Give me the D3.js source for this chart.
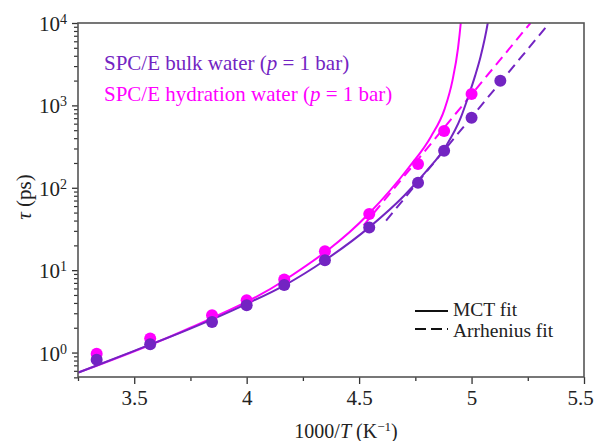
<!DOCTYPE html>
<html>
<head>
<meta charset="utf-8">
<script src="https://cdn.jsdelivr.net/npm/d3@7"></script>
<style>
  body { margin: 0; background: #fff; }
  text { font-family: "Liberation Serif", "Times New Roman", serif; }
</style>
</head>
<body>
<div id="chart"></div>
<script>
// data (x = 1000/T, tau in ps)
var xBulk = [3.333, 3.571, 3.846, 4.0, 4.167, 4.348, 4.545, 4.762, 4.878, 5.0, 5.128];
var tauBulk = [0.82, 1.26, 2.35, 3.76, 6.6, 13.2, 33, 115, 282, 709, 1995];
var xHyd = [3.333, 3.571, 3.846, 4.0, 4.167, 4.348, 4.545, 4.762, 4.878, 5.0];
var tauHyd = [0.97, 1.48, 2.84, 4.32, 7.7, 17.0, 48, 194, 489, 1375];

// MCT fit curves
var xMctBulk = [3.25, 3.5, 3.75, 4.0, 4.17, 4.35, 4.55, 4.7, 4.8, 4.886, 4.952, 4.982, 5.016, 5.04, 5.072, 5.09];
var tauMctBulk = [0.57, 1.05, 1.95, 3.9, 6.6, 13.3, 34, 80, 160, 320, 710, 1200, 2300, 3900, 10000, 21000];
var xMctHyd = [3.25, 3.75, 4.17, 4.545, 4.72, 4.82, 4.88, 4.915, 4.94, 4.952, 4.962];
var tauMctHyd = [0.57, 2.0, 7.6, 49, 175, 420, 900, 2000, 5000, 10000, 22000];

// Arrhenius fit lines (end points)
var xArrBulk = [4.62, 5.346];
var tauArrBulk = [40, 10000];
var xArrHyd = [4.52, 5.262];
var tauArrHyd = [35, 10000];

var xTicks = [3.5, 4, 4.5, 5, 5.5];
var yTicks = [1, 10, 100, 1000, 10000];

var purple = "#7324c2";
var magenta = "#ff00ff";

var margin = { top: 23, bottom: 64, left: 78, right: 10 };
var width = 594 - margin.left - margin.right;
var height = 441 - margin.top - margin.bottom;

var svg = d3.select("#chart").append("svg")
    .attr("width", 594)
    .attr("height", 441);

var g = svg.append("g")
    .attr("transform", "translate(" + margin.left + " " + margin.top + ")");

var x = d3.scaleLinear().domain([3.25, 5.5]).range([0, width]);
var y = d3.scaleLog().domain([0.505, 10000]).range([height, 0]);

// clip to the plot area
svg.append("defs").append("clipPath").attr("id", "clip")
  .append("rect").attr("width", width).attr("height", height);
var plot = g.append("g").attr("clip-path", "url(#clip)");

// x axis ticks
var xMinor = [3.25, 3.75, 4.25, 4.75, 5.25];
g.append("g").attr("transform", "translate(0 " + height + ")")
    .call(d3.axisBottom(x).tickValues(xTicks).tickSize(7).tickFormat(d3.format("")))
    .call(function(a) {
        a.select(".domain").remove();
        a.selectAll("line").attr("stroke", "#333").attr("stroke-width", 1.3);
        a.selectAll("text").attr("font-size", "21px").attr("fill", "#222").attr("dy", "0").attr("y", 28)
          .attr("x", function(d) { return d === 5.5 ? -4 : 0; });
    });
g.append("g").attr("transform", "translate(0 " + height + ")")
    .call(d3.axisBottom(x).tickValues(xMinor).tickSize(4).tickFormat(""))
    .call(function(a) {
        a.select(".domain").remove();
        a.selectAll("line").attr("stroke", "#333").attr("stroke-width", 1.3);
    });

// y axis ticks (log, with minors)
var yMinor = [];
[0.1, 1, 10, 100, 1000].forEach(function(dec) {
    for (var k = 2; k <= 9; k++) {
        var v = dec * k;
        if (v >= 0.5 && v <= 10000) yMinor.push(v);
    }
});
g.append("g")
    .call(d3.axisLeft(y).tickValues(yMinor).tickSize(4).tickFormat(""))
    .call(function(a) {
        a.select(".domain").remove();
        a.selectAll("line").attr("stroke", "#333").attr("stroke-width", 1.2);
    });
g.append("g")
    .call(d3.axisLeft(y).tickValues(yTicks).tickSize(6).tickFormat(""))
    .call(function(a) {
        a.select(".domain").remove();
        a.selectAll("line").attr("stroke", "#333").attr("stroke-width", 1.3);
    });
yTicks.forEach(function(t) {
    var lab = g.append("text")
        .attr("x", -11)
        .attr("y", y(t) + 8)
        .attr("text-anchor", "end")
        .attr("font-size", "21px")
        .attr("fill", "#222");
    lab.append("tspan").text("10");
    lab.append("tspan").attr("font-size", "14px").attr("dy", "-7").text(Math.round(Math.log10(t)));
});

// frame
g.append("rect")
    .attr("width", width).attr("height", height)
    .attr("fill", "none").attr("stroke", "#555").attr("stroke-width", 1.6);

var line = d3.line()
    .x(function(d) { return x(d[0]); })
    .y(function(d) { return y(d[1]); })
    .curve(d3.curveMonotoneX);

function pairs(xs, ys) { return xs.map(function(v, i) { return [v, ys[i]]; }); }

// hydration first, bulk on top
plot.append("path").datum(pairs(xArrHyd, tauArrHyd))
    .attr("d", line).attr("fill", "none").attr("stroke", magenta)
    .attr("stroke-width", 2).attr("stroke-dasharray", "10,6");
plot.append("path").datum(pairs(xArrBulk, tauArrBulk))
    .attr("d", line).attr("fill", "none").attr("stroke", purple)
    .attr("stroke-width", 2).attr("stroke-dasharray", "10,6");
plot.append("path").datum(pairs(xMctHyd, tauMctHyd))
    .attr("d", line).attr("fill", "none").attr("stroke", magenta).attr("stroke-width", 2);
plot.append("path").datum(pairs(xMctBulk, tauMctBulk))
    .attr("d", line).attr("fill", "none").attr("stroke", purple).attr("stroke-width", 2);

plot.selectAll("circle.hyd")
    .data(pairs(xHyd, tauHyd)).enter()
    .append("circle").attr("class", "hyd")
        .attr("cx", function(d) { return x(d[0]); })
        .attr("cy", function(d) { return y(d[1]); })
        .attr("r", 6).attr("fill", magenta);
plot.selectAll("circle.bulk")
    .data(pairs(xBulk, tauBulk)).enter()
    .append("circle").attr("class", "bulk")
        .attr("cx", function(d) { return x(d[0]); })
        .attr("cy", function(d) { return y(d[1]); })
        .attr("r", 6).attr("fill", purple);

// series legend
var t1 = g.append("text").attr("x", 26).attr("y", 47).attr("font-size", "21px").attr("fill", purple);
t1.append("tspan").text("SPC/E bulk water (");
t1.append("tspan").attr("font-style", "italic").text("p");
t1.append("tspan").text(" = 1 bar)");
var t2 = g.append("text").attr("x", 26).attr("y", 78).attr("font-size", "21px").attr("fill", magenta);
t2.append("tspan").text("SPC/E hydration water (");
t2.append("tspan").attr("font-style", "italic").text("p");
t2.append("tspan").text(" = 1 bar)");

// fit legend
g.append("line").attr("x1", 337).attr("x2", 370).attr("y1", 288).attr("y2", 288)
    .attr("stroke", "#111").attr("stroke-width", 2.2);
g.append("text").attr("x", 375).attr("y", 293).attr("font-size", "19.5px").attr("fill", "#222").text("MCT fit");
g.append("line").attr("x1", 337).attr("x2", 370).attr("y1", 306).attr("y2", 306)
    .attr("stroke", "#111").attr("stroke-width", 2.2).attr("stroke-dasharray", "11,5");
g.append("text").attr("x", 375).attr("y", 314).attr("font-size", "19.5px").attr("fill", "#222").text("Arrhenius fit");

// axis titles
var xt = g.append("text")
    .attr("x", width / 2 + 15).attr("y", height + 61)
    .attr("text-anchor", "middle").attr("font-size", "20px").attr("fill", "#222");
xt.append("tspan").text("1000/");
xt.append("tspan").attr("font-style", "italic").text("T");
xt.append("tspan").text(" (K");
xt.append("tspan").attr("font-size", "13px").attr("dy", "-7").text("\u22121");
xt.append("tspan").attr("dy", "7").text(")");

var yt = g.append("text")
    .attr("transform", "translate(-47 " + (height / 2 - 3) + ") rotate(-90)")
    .attr("text-anchor", "middle").attr("font-size", "21px").attr("fill", "#222");
yt.append("tspan").attr("font-style", "italic").text("\u03c4");
yt.append("tspan").text(" (ps)");
</script>
</body>
</html>
